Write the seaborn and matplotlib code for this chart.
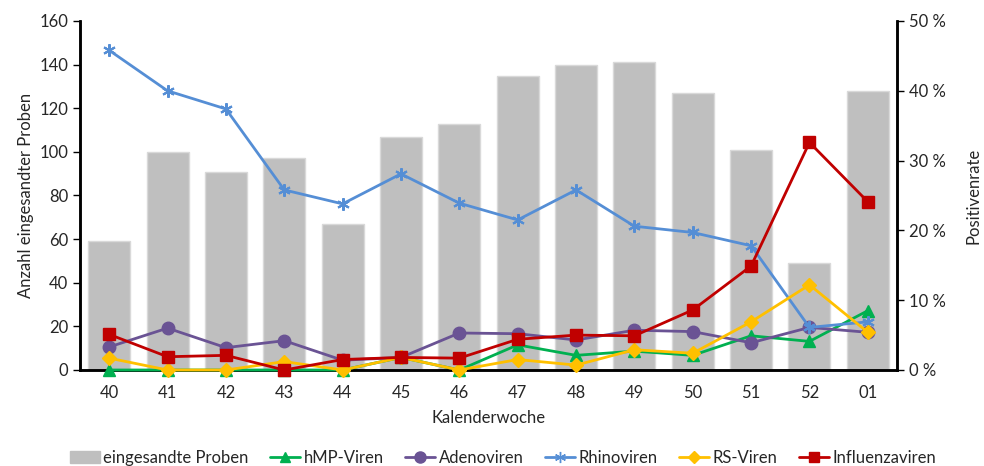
import numpy as np
import pandas as pd
import matplotlib
matplotlib.use("Agg")
import matplotlib.pyplot as plt
from matplotlib.lines import Line2D
from matplotlib.patches import Patch
from matplotlib.ticker import FuncFormatter, MultipleLocator
import seaborn as sns

weeks = ["40", "41", "42", "43", "44", "45", "46", "47", "48", "49", "50", "51", "52", "01"]
samples = [59, 100, 91, 97, 67, 107, 113, 135, 140, 141, 127, 101, 49, 128]

hmp = [0.0, 0.0, 0.0, 0.0, 0.0, 1.8, 0.0, 3.6, 2.1, 2.7, 2.1, 4.9, 4.1, 8.5]
adeno = [3.3, 6.0, 3.2, 4.2, 1.4, 1.8, 5.3, 5.2, 4.3, 5.7, 5.5, 3.9, 6.1, 5.4]
rhino = [45.8, 40.0, 37.4, 25.8, 23.8, 28.1, 23.9, 21.5, 25.8, 20.6, 19.7, 17.8, 6.1, 6.9]
rsv = [1.7, 0.0, 0.0, 1.2, 0.0, 1.8, 0.0, 1.5, 0.7, 2.9, 2.4, 6.9, 12.2, 5.4]
flu = [5.1, 1.9, 2.1, 0.0, 1.5, 1.8, 1.7, 4.4, 5.0, 4.9, 8.6, 14.9, 32.6, 24.1]

series_names = ["hMP-Viren", "Adenoviren", "Rhinoviren", "RS-Viren", "Influenzaviren"]
series_values = [hmp, adeno, rhino, rsv, flu]
colors = ["#00B050", "#6A5394", "#558ED5", "#FFC000", "#C00000"]
markers = ["^", "o", (6, 2, 0), "D", "s"]
msizes = [8, 9, 9, 7, 8]

sns.set_style("white")
plt.rcParams["font.family"] = ["Lato", "DejaVu Sans"]
plt.rcParams["font.size"] = 12

fig = plt.figure(figsize=(9.84, 4.66), dpi=100)
ax = fig.add_axes([80 / 984, 96 / 466, 817 / 984, 349 / 466])

bars = pd.DataFrame({"Woche": weeks, "Proben": samples})
sns.barplot(data=bars, x="Woche", y="Proben", order=weeks, color="#BFBFBF",
            saturation=1, width=0.72, edgecolor="#D9D9D9", linewidth=1, ax=ax)

ax.set_ylim(0, 160)
ax.yaxis.set_major_locator(MultipleLocator(20))
ax.set_xlim(-0.5, len(weeks) - 0.5)
ax.set_xlabel("Kalenderwoche", fontsize=12, labelpad=6)
ax.set_ylabel("Anzahl eingesandter Proben", fontsize=12, labelpad=4)

ax2 = ax.twinx()
for i, (name, vals, c, m, ms) in enumerate(zip(series_names, series_values, colors, markers, msizes)):
    df = pd.DataFrame({"x": np.arange(len(weeks)), "y": vals})
    sns.lineplot(data=df, x="x", y="y", color=c, linewidth=2.0, marker=m,
                 markersize=ms, markeredgecolor=c, markeredgewidth=1.5 if m == (6, 2, 0) else 1,
                 ax=ax2, legend=False, clip_on=False, zorder=3 + i * 0.1)
ax2.set_ylim(0, 50)
ax2.yaxis.set_major_locator(MultipleLocator(10))
ax2.yaxis.set_major_formatter(FuncFormatter(lambda v, p: f"{v:.0f} %"))
ax2.set_ylabel("Positivenrate", fontsize=12, labelpad=14)
ax2.set_xlabel("")
ax2.set_xlim(-0.5, len(weeks) - 0.5)

# category labels centred, tick marks on the boundaries
ax.set_xticks(np.arange(len(weeks)))
ax.set_xticklabels(weeks)
ax.set_xticks(np.arange(len(weeks) + 1) - 0.5, minor=True)
ax.tick_params(axis="x", which="major", length=0, pad=11, labelsize=12)
ax.tick_params(axis="x", which="minor", length=5, width=1, direction="out", color="black")
ax.tick_params(axis="y", length=5, width=1, direction="out", color="black", labelsize=12, left=True)
ax2.tick_params(axis="y", length=5, width=1, direction="out", color="black", labelsize=12, right=True)

for a in (ax, ax2):
    a.spines["top"].set_visible(False)
    for s in ("left", "right", "bottom"):
        a.spines[s].set_color("black")
        a.spines[s].set_linewidth(1.8)
    a.grid(False)

handles = [Patch(facecolor="#BFBFBF", edgecolor="#BFBFBF", label="eingesandte Proben")]
for name, c, m, ms in zip(series_names, colors, markers, msizes):
    handles.append(Line2D([0], [0], color=c, linewidth=2.0, marker=m, markersize=ms - 1,
                          markeredgecolor=c, label=name))
fig.legend(handles=handles, loc="center", bbox_to_anchor=(503 / 984, 1 - 458 / 466),
           ncol=6, frameon=False, fontsize=12, handlelength=1.8, handletextpad=0.2,
           columnspacing=1.3, borderaxespad=0)

fig.savefig("out.png", dpi=100)
